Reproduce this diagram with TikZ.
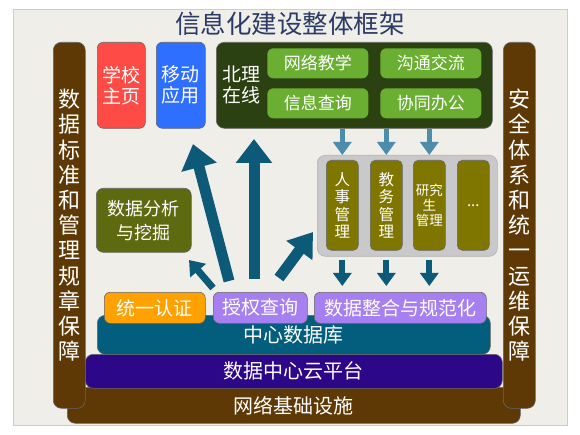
\documentclass[tikz,border=0pt]{standalone}
\usepackage{fontspec}
\setmainfont{Noto Sans CJK SC}
\usetikzlibrary{arrows.meta}
\definecolor{paper}{HTML}{EFEEE9}
\definecolor{paperline}{HTML}{C9CDD2}
\definecolor{titleblue}{HTML}{2B3A66}
\definecolor{barbrown}{HTML}{5F3905}
\definecolor{homered}{HTML}{FF4B45}
\definecolor{appblue}{HTML}{2F6FFF}
\definecolor{onlinegreen}{HTML}{2B4112}
\definecolor{btngreen}{HTML}{6AAE32}
\definecolor{minegreen}{HTML}{5E6A10}
\definecolor{cololive}{HTML}{7F7600}
\definecolor{sysgray}{HTML}{C9C9CB}
\definecolor{authorange}{HTML}{FFA100}
\definecolor{lavender}{HTML}{A67FF0}
\definecolor{dbteal}{HTML}{035E7E}
\definecolor{cloudpurple}{HTML}{2C0788}
\definecolor{arrowteal}{HTML}{0C5A78}
\definecolor{lightteal}{HTML}{4B8DAA}
\newcommand{\fs}[2]{\fontsize{#1}{#2}\selectfont}

\begin{document}
\begin{tikzpicture}[x=1pt,y=-1pt,
  box/.style={draw=black!60, line width=.6pt, rounded corners=6pt, anchor=north west,
    inner sep=0pt, text=white, align=center},
  colbox/.style={box, fill=cololive, minimum width=32pt, minimum height=90pt, rounded corners=5pt},
  btn/.style={box, fill=btngreen, draw=none, minimum width=101pt, minimum height=30pt, font=\fs{17}{20}},
  bigarrow/.style={draw=arrowteal, line width=11pt, -{Triangle[width=35pt,length=24pt]}},
  smallarrow/.style={line width=6pt, -{Triangle[width=18pt,length=13pt]}}]
\useasboundingbox (0,0) rectangle (580,435);
% background sheet and title
\draw[fill=paper, draw=paperline, line width=1pt] (13,10) rectangle (567,425);
\node[text=titleblue, font=\fs{25.5}{28}] (title) at (290,24) {信息化建设整体框架};

% bottom layers
\node[box, fill=barbrown, minimum width=453pt, minimum height=36pt, rounded corners=8pt, font=\fs{20}{24}] (net) at (67,387) {\raisebox{-3pt}{网络基础设施}};
\node[box, fill=barbrown, minimum width=32pt, minimum height=366pt, rounded corners=8pt, font=\fs{22}{25.2}] (rules) at (53,42)
  {数\\据\\标\\准\\和\\管\\理\\规\\章\\保\\障};
\node[box, fill=barbrown, minimum width=32pt, minimum height=366pt, rounded corners=8pt, font=\fs{22}{25.2}] (safety) at (503,42)
  {安\\全\\体\\系\\和\\统\\一\\运\\维\\保\\障};
\node[box, fill=cloudpurple, minimum width=417pt, minimum height=34pt, rounded corners=8pt, font=\fs{20}{24}] (cloud) at (85,354) {数据中心云平台};
\node[box, fill=dbteal, minimum width=393pt, minimum height=39pt, rounded corners=8pt, font=\fs{20}{24}] (db) at (97,315) {\raisebox{-4pt}{中心数据库}};
\node[box, fill=authorange, minimum width=101pt, minimum height=31pt, font=\fs{19}{22}] (auth) at (104,292) {统一认证};
\node[box, fill=lavender, minimum width=94pt, minimum height=31pt, font=\fs{19}{22}] (grant) at (213,292) {授权查询};
\node[box, fill=lavender, minimum width=172pt, minimum height=31pt, font=\fs{19}{22}] (merge) at (314,292) {数据整合与规范化};

% top row
\node[box, fill=homered, minimum width=48pt, minimum height=86pt, font=\fs{19}{21}] (home) at (97,42) {学校\\主页};
\node[box, fill=appblue, minimum width=49pt, minimum height=86pt, font=\fs{19}{21}] (mobile) at (156,42) {移动\\应用};
\node[box, fill=onlinegreen, minimum width=276pt, minimum height=86pt, rounded corners=8pt] (online) at (216,42) {};
\node[text=white, align=center, font=\fs{19}{21}] (bitname) at (241,85) {北理\\在线};
\node[btn] (teach) at (267,48) {网络教学};
\node[btn] (talk) at (380,48) {沟通交流};
\node[btn] (query) at (267,88) {信息查询};
\node[btn] (office) at (380,88) {协同办公};

% business systems
\node[box, fill=sysgray, draw=black!30, minimum width=180pt, minimum height=101pt, rounded corners=8pt] (sys) at (317,155) {};
\node[colbox, font=\fs{15.5}{17.5}] (col1) at (326,160) {人\\事\\管\\理};
\node[colbox, font=\fs{15.5}{17.5}] (col2) at (370,160) {教\\务\\管\\理};
\node[colbox, font=\fs{13.5}{15}] (col3) at (413,160) {研究\\生\\管理};
\node[colbox, font=\fs{15}{16}] (col4) at (457,160) {...};
\node[box, fill=minegreen, minimum width=95pt, minimum height=64pt, rounded corners=7pt, font=\fs{18}{24}] (mine) at (96,188) {数据分析\\与挖掘};

\foreach \i in {1,2,3} {
  \draw[smallarrow, draw=lightteal, line width=5pt] (online.south -| col\i) -- (sys.north -| col\i);
  \draw[smallarrow, draw=arrowteal, shorten <=3pt, shorten >=6pt] (sys.south -| col\i) -- (merge.north -| col\i);
}

% arrows out of the data centre
\coordinate (up1) at (229,281);
\coordinate (tip1) at (193,144);
\coordinate (up2) at (254,279);
\coordinate (tip2) at (254,139);
\coordinate (up3) at (279,278);
\coordinate (tip3) at (313,232);
\coordinate (up4) at (213,288);
\coordinate (tip4) at (189,260);
\draw[bigarrow] (up1) -- (tip1);
\draw[bigarrow] (up2) -- (tip2);
\draw[bigarrow, -{Triangle[width=31pt,length=23pt]}] (up3) -- (tip3);
\draw[bigarrow, line width=7pt, -{Triangle[width=20pt,length=14pt]}] (up4) -- (tip4);
\end{tikzpicture}
\end{document}
